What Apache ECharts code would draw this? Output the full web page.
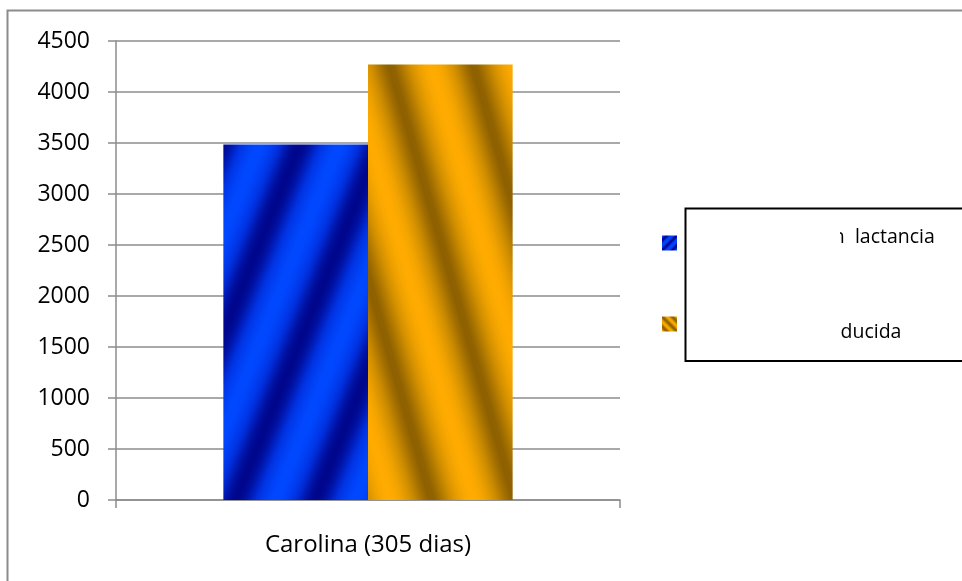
<!DOCTYPE html>
<html>
<head>
<meta charset="utf-8">
<script src="https://cdn.jsdelivr.net/npm/echarts@6/dist/echarts.min.js"></script>
<style>
  html, body { margin: 0; padding: 0; background: #fff; }
  #chart { width: 962px; height: 581px; }
</style>
</head>
<body>
<div id="chart"></div>
<script>
// Chart data
const categories = ['Carolina (305 dias)'];
const seriesNames = ['Leche total en lactancia', 'Leche total producida'];
const lactanciaValues = [3485];
const producidaValues = [4270];
const yMin = 0, yMax = 4500, yStep = 500;

const W = 962, H = 581;
const FONT = 'Open Sans';

function hexToRgb(h) {
  const n = parseInt(h.slice(1), 16);
  return [(n >> 16) & 255, (n >> 8) & 255, n & 255];
}
function mix(a, b, t) {
  const A = hexToRgb(a), B = hexToRgb(b);
  const c = A.map((v, i) => Math.round(v + (B[i] - v) * t));
  return 'rgb(' + c.join(',') + ')';
}
function ramp(dark, mid, bright, t) {
  return t < 0.5 ? mix(dark, mid, t * 2) : mix(mid, bright, t * 2 - 1);
}

// Repeating diagonal stripes as one canvas-wide linear gradient.
// (nx, ny) is the unit normal of the stripes, (ox, oy) the start point,
// brightAt is the projected distance where a bright band sits.
function stripes(nx, ny, ox, oy, period, brightAt, pal, gamma) {
  const L = Math.abs(nx) * W + Math.abs(ny) * H;
  const stops = [];
  const step = period / 16;
  for (let d = 0; d <= L + 0.001; d += step) {
    const c = (1 + Math.cos(2 * Math.PI * (d - brightAt) / period)) / 2;
    stops.push({ offset: Math.min(1, d / L), color: ramp(pal[0], pal[1], pal[2], Math.pow(c, gamma)) });
  }
  return new echarts.graphic.LinearGradient(ox, oy, ox + nx * L, oy + ny * L, stops, true);
}

// Small striped swatches for legend icons
function swatch(x, y, x2, y2, pal) {
  const stops = [];
  const n = 3, seg = 8;
  for (let i = 0; i <= n * seg; i++) {
    const t = (1 + Math.cos(2 * Math.PI * i / seg)) / 2;
    stops.push({ offset: i / (n * seg), color: ramp(pal[0], pal[1], pal[2], t) });
  }
  return new echarts.graphic.LinearGradient(x, y, x2, y2, stops);
}

const bluePal = ['#00068c', '#0030de', '#0048ff'];
const orangePal = ['#8a5e00', '#c98a00', '#ffab00'];

const a1 = 68 * Math.PI / 180;
const blueFill = stripes(Math.sin(a1), Math.cos(a1), 0, 0, 74, 295, bluePal, 1);
const a2 = 74 * Math.PI / 180;
const orangeFill = stripes(Math.sin(a2), -Math.cos(a2), 0, H, 80, 557, orangePal, 0.7);

const axisColor = '#8c8c8c';

const chart = echarts.init(document.getElementById('chart'), null, { renderer: 'canvas' });
chart.setOption({
  animation: false,
  backgroundColor: '#fff',
  grid: { left: 116, right: 342, top: 41, bottom: 81 },
  legend: {
    orient: 'vertical',
    left: 662,
    top: 227,
    padding: 0,
    z: 50,
    icon: 'rect',
    itemWidth: 15,
    itemHeight: 15,
    itemGap: 51,
    formatter: name => name === seriesNames[0]
      ? '{a|' + name.replace(' lactancia', '  lactancia') + '}'
      : '{b|' + name + '}',
    textStyle: {
      fontFamily: FONT, fontSize: 19.5, lineHeight: 30, color: '#000',
      rich: {
        a: { fontFamily: FONT, fontSize: 19.5, color: '#000', padding: [0, 0, 12, 35] },
        b: { fontFamily: FONT, fontSize: 19.5, color: '#000', padding: [16, 0, 0, 22] }
      }
    },
    data: [
      { name: seriesNames[0], itemStyle: { color: swatch(0, 0, 1, 1, bluePal) } },
      { name: seriesNames[1], itemStyle: { color: swatch(0, 1, 1, 0, orangePal) } }
    ]
  },
  xAxis: {
    type: 'category',
    data: categories,
    axisLine: { lineStyle: { color: axisColor, width: 1.5 } },
    axisTick: { show: true, length: 8, lineStyle: { color: axisColor, width: 1.5 } },
    axisLabel: { margin: 33, fontFamily: FONT, fontSize: 24, color: '#000' },
    splitLine: { show: false }
  },
  yAxis: {
    type: 'value',
    min: yMin,
    max: yMax,
    interval: yStep,
    axisLine: { show: true, lineStyle: { color: axisColor, width: 1.5 } },
    axisTick: { show: true, length: 8, lineStyle: { color: axisColor, width: 1.5 } },
    axisLabel: { margin: 26, fontFamily: FONT, fontSize: 23, color: '#000', formatter: v => String(v) },
    splitLine: { show: true, lineStyle: { color: axisColor, width: 1.5 } }
  },
  series: [
    {
      name: seriesNames[0],
      type: 'bar',
      data: lactanciaValues,
      barGap: '0%',
      barCategoryGap: '42.6%',
      itemStyle: { color: blueFill }
    },
    {
      name: seriesNames[1],
      type: 'bar',
      data: producidaValues,
      barGap: '0%',
      barCategoryGap: '42.6%',
      itemStyle: { color: orangeFill }
    }
  ],
  graphic: [
    {
      // outer chart frame
      type: 'rect',
      z: 0,
      silent: true,
      shape: { x: 7.5, y: 10.5, width: 1000, height: 1000 },
      style: { fill: 'none', stroke: axisColor, lineWidth: 2 }
    },
    {
      // legend box
      type: 'rect',
      z: 1,
      silent: true,
      shape: { x: 685.5, y: 208.5, width: 400, height: 152.5 },
      style: { fill: '#fff', stroke: '#000', lineWidth: 2 }
    },
    {
      // blank panel over the start of the legend labels
      type: 'rect',
      z: 60,
      silent: true,
      shape: { x: 687, y: 210, width: 153, height: 149.5 },
      style: { fill: '#fff' }
    }
  ]
});
</script>
</body>
</html>
